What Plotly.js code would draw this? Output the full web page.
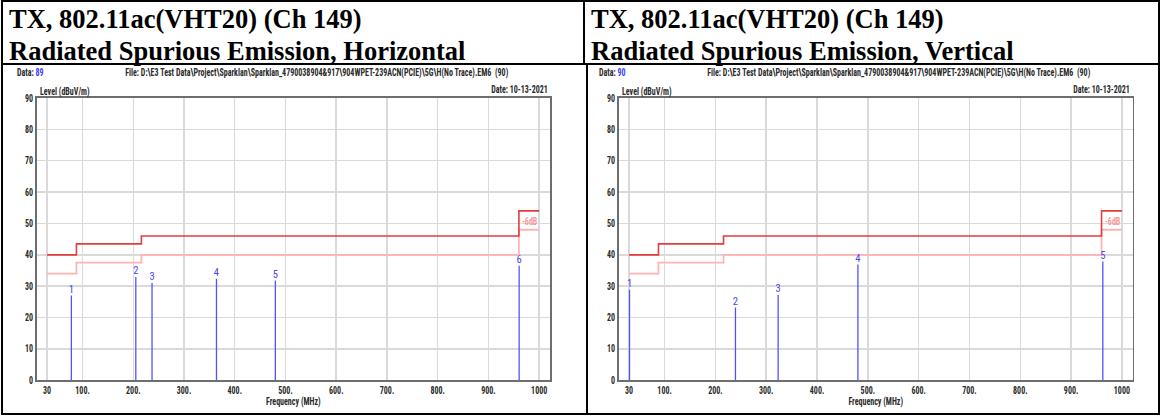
<!DOCTYPE html>
<html>
<head>
<meta charset="utf-8">
<script src="https://cdn.plot.ly/plotly-3.0.1.min.js"></script>
<style>html,body{margin:0;padding:0;background:#fff;}#chart{width:1161px;height:416px;}</style>
</head>
<body>
<div id="chart"></div>
<script>
// ---------- data ----------
const freqTicks = [30, 100, 200, 300, 400, 500, 600, 700, 800, 900, 1000];
const freqTickLabels = ['30', '100.', '200.', '300.', '400.', '500.', '600.', '700.', '800.', '900.', '1000'];
const levelTicks = [0, 10, 20, 30, 40, 50, 60, 70, 80, 90];

// limit line (dBuV/m) and -6dB margin line, step edges in MHz
const limitFreq = [30, 88, 216, 960, 1000];
const limitLevel = [40, 43.5, 46, 54, 54];
const marginLevel = [34, 37.5, 40, 48, 48];

// Horizontal polarization peaks
const hFreq = [78, 205, 237, 364, 480, 960.5];
const hLevel = [27.0, 32.9, 31.0, 32.4, 31.8, 36.5];
const hLabels = ['1', '2', '3', '4', '5', '6'];

// Vertical polarization peaks
const vFreq = [31, 239.5, 323.5, 480.5, 962.5];
const vLevel = [28.9, 23.2, 27.2, 36.9, 37.9];
const vLabels = ['1', '2', '3', '4', '5'];

const titleLine1 = 'TX, 802.11ac(VHT20) (Ch 149)';
const titleH = 'Radiated Spurious Emission, Horizontal';
const titleV = 'Radiated Spurious Emission, Vertical';
const fileText = 'File: D:\\E3 Test Data\\Project\\Sparklan\\Sparklan_4790038904&917\\904WPET-239ACN(PCIE)\\5G\\H(No Trace).EM6  (90)';
const dateText = 'Date: 10-13-2021';
const dataH = '89';
const dataV = '90';

// ---------- helpers ----------
const W = 1161, H = 416;
const PX = p => p / W;
const PY = p => 1 - p / H;
const NARROW = '"Roboto Condensed", "Liberation Sans Narrow", "DejaVu Sans Condensed", Roboto, sans-serif';
const SERIF = '"Liberation Serif", "Times New Roman", serif';
const BLUE = '#5252ff';
const SQUEEZE = 0.8;

function stems(fr, lv) {
  const x = [], y = [];
  fr.forEach((f, i) => { x.push(f, f, null); y.push(0, lv[i], null); });
  return {x, y};
}

function panelTraces(fr, lv, labels, xa, ya) {
  const s = stems(fr, lv);
  return [
    {x: limitFreq, y: marginLevel, xaxis: xa, yaxis: ya, mode: 'lines', line: {shape: 'hv', color: '#ffb4b4', width: 1.8}, hoverinfo: 'skip'},
    {x: limitFreq, y: limitLevel, xaxis: xa, yaxis: ya, mode: 'lines', line: {shape: 'hv', color: '#e43c3c', width: 1.6}, hoverinfo: 'skip'},
    {x: s.x, y: s.y, xaxis: xa, yaxis: ya, mode: 'lines', line: {color: BLUE, width: 1.3}, hoverinfo: 'skip'},
    {x: fr, y: lv, xaxis: xa, yaxis: ya, mode: 'text', text: labels, textposition: 'top center',
     textfont: {family: NARROW, size: 10.5, color: '#4848f0'}, hoverinfo: 'skip'}
  ];
}

const data = [].concat(
  panelTraces(hFreq, hLevel, hLabels, 'x', 'y'),
  panelTraces(vFreq, vLevel, vLabels, 'x2', 'y2')
);

const yDom = [PY(380.3), PY(98)];
const TICKFONT = {family: NARROW, size: 10, color: '#2a2a2a', weight: 'bold'};
function xAxis(dom, yref) {
  return {
    domain: dom, anchor: yref, range: [9.7, 1021.3], tickmode: 'array', tickvals: freqTicks, ticktext: freqTickLabels,
    showgrid: true, gridcolor: '#dadada', gridwidth: 1.5, zeroline: false,
    showline: true, mirror: true, linecolor: '#6e6e6e', linewidth: 1.6, ticks: '',
    tickfont: TICKFONT,
    title: {text: 'Frequency (MHz)', font: TICKFONT, standoff: 3},
    fixedrange: true
  };
}
function yAxis(xref) {
  return {
    domain: yDom, anchor: xref, range: [0, 90], tickmode: 'array', tickvals: levelTicks,
    showgrid: true, gridcolor: '#dadada', gridwidth: 1.5, zeroline: false,
    showline: true, mirror: true, linecolor: '#6e6e6e', linewidth: 1.6, ticks: '',
    tickfont: TICKFONT, fixedrange: true
  };
}

function border(x0, y0, x1, y1) {
  return {type: 'line', xref: 'paper', yref: 'paper', x0: PX(x0), y0: PY(y0), x1: PX(x1), y1: PY(y1),
          line: {color: '#000', width: 2}};
}
const shapes = [
  border(1, 1, 1160, 1), border(1, 414, 1160, 414),
  border(2, 1, 2, 414), border(1159, 1, 1159, 414),
  border(1, 64, 1160, 64),
  border(584, 1, 584, 64), border(587, 64, 587, 414)
];

function ann(text, x, y, opts) {
  return Object.assign({text: text, xref: 'paper', yref: 'paper', x: PX(x), y: PY(y), showarrow: false,
    xanchor: 'left', yanchor: 'middle', font: TICKFONT, name: 'sq'}, opts || {});
}
const annotations = [];
[[0, titleH, dataH], [582, titleV, dataV]].forEach(([dx, t2, dv]) => {
  annotations.push(ann('<b>' + titleLine1 + '</b>', 7 + dx, 19, {font: {family: SERIF, size: 26.5, color: '#000'}, name: 'title'}));
  annotations.push(ann('<b>' + t2 + '</b>', 7 + dx, 51.5, {font: {family: SERIF, size: 26.5, color: '#000'}, name: 'title'}));
  annotations.push(ann('Data: <span style="color:#4040ff">' + dv + '</span>', 15 + dx, 72.5));
  annotations.push(ann(fileText, 123.3 + dx, 72.5));
  annotations.push(ann(dateText, 550 + dx, 89.5, {xanchor: 'right'}));
  annotations.push(ann('Level (dBuV/m)', 37.5 + dx, 91.5));
});
// -6dB labels in data coordinates
['', '2'].forEach(k => {
  annotations.push({text: '-6dB', xref: 'x' + k, yref: 'y' + k, x: 982, y: 50.6, showarrow: false, xanchor: 'center', yanchor: 'middle',
    font: {family: NARROW, size: 10, color: '#f49a9a', weight: 'bold'}, name: 'sq'});
});

const layout = {
  width: W, height: H, margin: {l: 0, r: 0, t: 0, b: 0},
  paper_bgcolor: '#fff', plot_bgcolor: '#fff', showlegend: false,
  xaxis: xAxis([PX(36.7), PX(550)], 'y'),
  yaxis: yAxis('x'),
  xaxis2: xAxis([PX(618.7), PX(1132.7)], 'y2'),
  yaxis2: yAxis('x2'),
  shapes: shapes, annotations: annotations
};

// horizontally condense a rendered text element (the reference uses a narrow font)
function squeeze(el, mode) {
  const bb = el.getBBox();
  const ax = mode === 'right' ? bb.x + bb.width : mode === 'center' ? bb.x + bb.width / 2 : bb.x;
  const prev = el.getAttribute('transform') || '';
  el.setAttribute('transform', prev + ' translate(' + ax + ',0) scale(' + SQUEEZE + ',1) translate(' + (-ax) + ',0)');
}

Plotly.newPlot('chart', data, layout, {displayModeBar: false, staticPlot: true}).then(gd => {
  gd.querySelectorAll('g.annotation').forEach(g => {
    const i = +g.getAttribute('data-index');
    const a = layout.annotations[i];
    if (!a || a.name !== 'sq') return;
    const t = g.querySelector('text.annotation-text');
    if (t) squeeze(t, a.xanchor);
  });
  gd.querySelectorAll('g.xtick text, g.x2tick text').forEach(t => squeeze(t, 'center'));
  gd.querySelectorAll('g.ytick text, g.y2tick text').forEach(t => squeeze(t, 'right'));
  gd.querySelectorAll('text.xtitle, text.x2title').forEach(t => squeeze(t, 'center'));
});
</script>
</body>
</html>
